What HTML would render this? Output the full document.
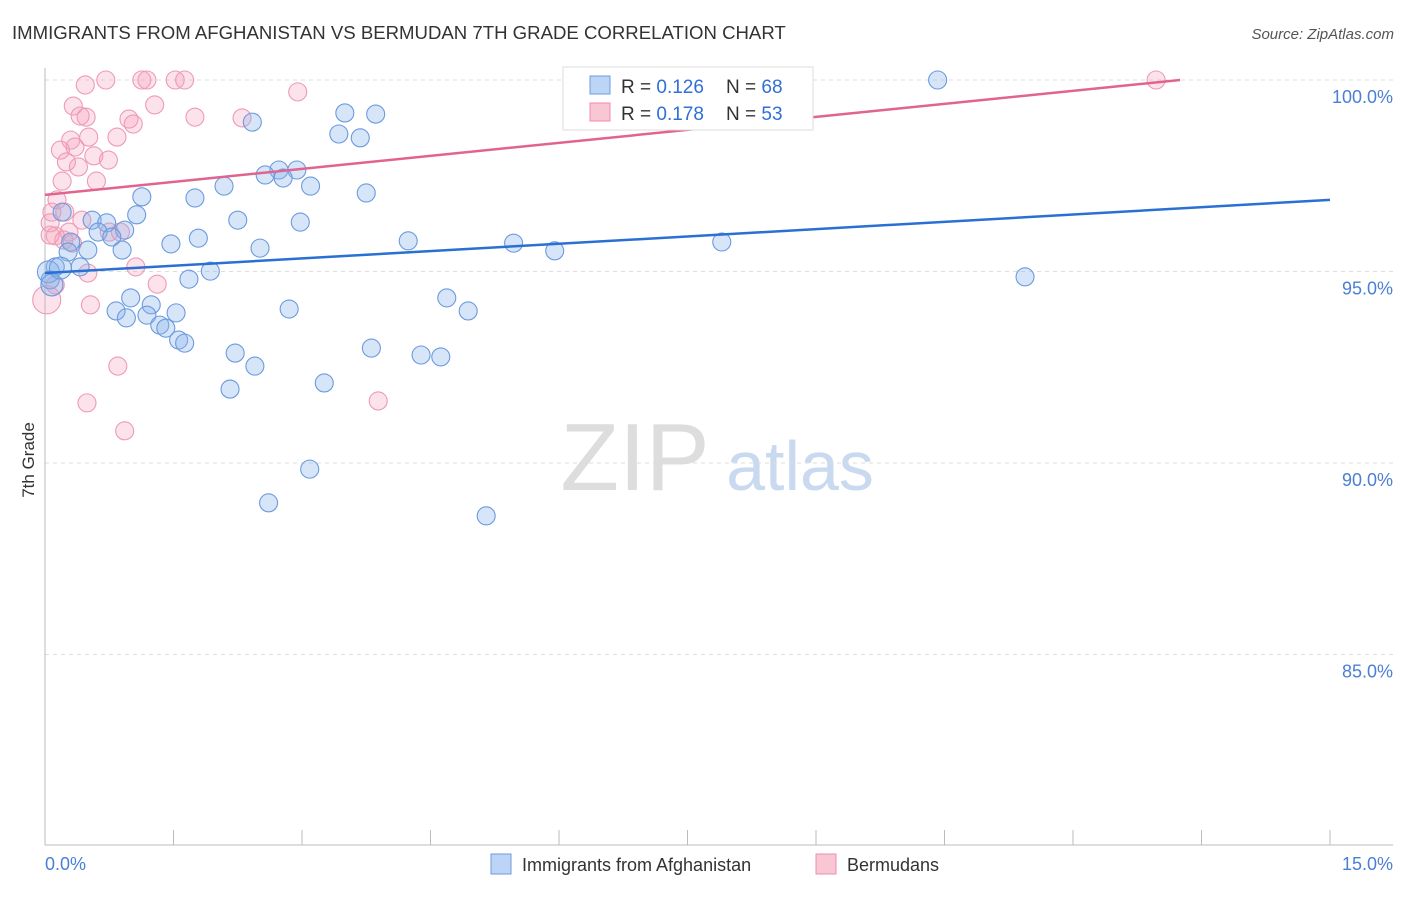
<!DOCTYPE html>
<html><head><meta charset="utf-8"><style>
body{margin:0;background:#fff;font-family:"Liberation Sans",sans-serif;}
#wrap{position:relative;width:1406px;height:892px;}
svg text{font-family:"Liberation Sans",sans-serif;}
</style></head><body>
<div id="wrap">
<svg id="svg" width="1406" height="892">
<text x="12" y="39" font-size="18.6" fill="#333">IMMIGRANTS FROM AFGHANISTAN VS BERMUDAN 7TH GRADE CORRELATION CHART</text>
<text x="1394" y="39" font-size="15" fill="#555" font-style="italic" text-anchor="end">Source: ZipAtlas.com</text>
<text x="34" y="460" font-size="17" fill="#333" transform="rotate(-90 34 460)" text-anchor="middle">7th Grade</text>
<g><text x="635" y="490" font-size="96" fill="#ddd" font-family="Liberation Serif" text-anchor="middle">ZIP</text><text x="800" y="490" font-size="70" fill="#c9d9f0" text-anchor="middle">atlas</text></g>
<g id="grid"></g><g id="pts"></g><g id="lines"></g>
<text x="45" y="870" font-size="18" fill="#4a7fd4">0.0%</text>
<text x="1393" y="870" font-size="18" fill="#4a7fd4" text-anchor="end">15.0%</text>
<g>
<rect x="563" y="67" width="250" height="63" fill="#fff" stroke="#ddd"/>
<rect x="590" y="76" width="20" height="18" fill="#bcd4f5" stroke="#6e9be0"/>
<text x="621" y="93" font-size="19" fill="#333">R = <tspan fill="#2f6fd6">0.126</tspan></text>
<text x="726" y="93" font-size="19" fill="#333">N = <tspan fill="#2f6fd6">68</tspan></text>
<rect x="590" y="103" width="20" height="18" fill="#f9c6d6" stroke="#eb8fae"/>
<text x="621" y="120" font-size="19" fill="#333">R = <tspan fill="#2f6fd6">0.178</tspan></text>
<text x="726" y="120" font-size="19" fill="#333">N = <tspan fill="#2f6fd6">53</tspan></text>
</g>
<g>
<rect x="491" y="854" width="20" height="20" fill="#bcd4f5" stroke="#6e9be0"/>
<text x="522" y="871" font-size="18" fill="#333">Immigrants from Afghanistan</text>
<rect x="816" y="854" width="20" height="20" fill="#f9c6d6" stroke="#eb8fae"/>
<text x="847" y="871" font-size="18" fill="#333">Bermudans</text>
</g>
</svg></div>
<script>
const yTicks=[100,95,90,85];
const yTickLabels=["100.0%","95.0%","90.0%","85.0%"];
const xTicks=[0,1.5,3,4.5,6,7.5,9,10.5,12,13.5,15];
const blueX=[6.85,10.42,2.42,3.50,3.86,3.43,3.68,2.73,2.94,2.57,2.78,3.10,2.09,3.75,1.13,1.75,0.20,1.07,2.25,2.98,0.55,0.72,0.62,0.93,0.78,0.30,1.47,1.79,4.24,5.47,7.90,2.51,0.50,0.90,5.95,0.27,0.12,0.41,1.93,1.68,11.44,0.06,1.00,4.69,1.24,2.85,0.83,4.94,0.95,1.19,1.53,1.34,1.41,1.56,1.63,2.22,3.81,4.39,4.62,2.45,3.26,2.16,3.09,2.61,5.15,0.04,0.08,0.18];
const blueY=[100.0,100.0,98.90,99.14,99.11,98.59,98.49,97.65,97.65,97.52,97.44,97.23,97.23,97.05,96.95,96.92,96.55,96.48,96.34,96.29,96.34,96.27,96.03,96.08,95.90,95.77,95.72,95.87,95.80,95.74,95.77,95.61,95.56,95.56,95.54,95.51,95.12,95.12,95.01,94.80,94.86,94.78,94.31,94.31,94.13,94.02,93.97,93.97,93.79,93.86,93.92,93.60,93.52,93.21,93.13,92.87,93.00,92.82,92.77,92.53,92.09,91.93,89.84,88.96,88.62,94.99,94.65,95.09];
const pinkX=[0.02,0.47,0.71,1.13,1.19,1.52,1.63,2.95,0.33,0.48,0.41,1.28,0.98,1.03,1.75,2.30,0.30,0.84,0.51,0.35,0.18,0.57,0.74,0.25,0.39,0.60,0.20,0.14,0.08,0.06,0.23,0.43,0.28,0.75,0.88,0.12,0.32,0.22,1.06,0.50,1.31,0.12,0.53,0.85,0.49,3.89,0.93,12.97,0.06];
const pinkY=[94.26,99.87,100,100,100,100,100,99.69,99.32,99.03,99.06,99.35,98.98,98.85,99.03,99.01,98.43,98.51,98.51,98.25,98.17,98.02,97.91,97.86,97.73,97.36,97.36,96.87,96.55,96.27,96.55,96.34,96.03,96.03,96.03,95.93,95.74,95.82,95.12,94.96,94.67,94.65,94.13,92.53,91.57,91.62,90.84,100,95.95];
const blueTrend=[[0,94.96],[15,96.87]];
const pinkTrend=[[0,97.0],[13.25,100]];
const X=v=>45+v/15*1285, Y=v=>80+(100-v)/5*191.5;
const NS="http://www.w3.org/2000/svg";
function mk(t,a,p){const e=document.createElementNS(NS,t);for(const k in a)e.setAttribute(k,a[k]);p.appendChild(e);return e;}
const grid=document.getElementById('grid');
yTicks.forEach((t,i)=>{const l=mk('line',{x1:45,x2:1393,y1:Y(t),y2:Y(t),stroke:'#ddd','stroke-dasharray':'4,4'},grid);


const tx=mk('text',{x:1393,y:Y(t)+23,'font-size':18,fill:'#4a7fd4','text-anchor':'end'},grid);tx.textContent=yTickLabels[i];

});
const ax=mk('line',{x1:45,x2:45,y1:68,y2:845,stroke:'#bbb'},grid);


const bx=mk('line',{x1:45,x2:1393,y1:845,y2:845,stroke:'#bbb'},grid);


xTicks.forEach(t=>{const l=mk('line',{x1:X(t),x2:X(t),y1:830,y2:845,stroke:'#bbb'},grid);

});
const pts=document.getElementById('pts');
pinkX.forEach((x,i)=>{const c=mk('circle',{cx:X(x),cy:Y(pinkY[i]),r:i==0?14:9,fill:'rgba(245,160,185,0.3)',stroke:'#ee9ab6','stroke-width':1.1},pts);

});
blueX.forEach((x,i)=>{const c=mk('circle',{cx:X(x),cy:Y(blueY[i]),r:i>=65?11:9,fill:'rgba(140,180,235,0.35)',stroke:'#6b9ade','stroke-width':1.1},pts);

});
const lines=document.getElementById('lines');
const lb=mk('line',{x1:X(blueTrend[0][0]),y1:Y(blueTrend[0][1]),x2:X(blueTrend[1][0]),y2:Y(blueTrend[1][1]),stroke:'#2a6fd4','stroke-width':2.5},lines);


const lp=mk('line',{x1:X(pinkTrend[0][0]),y1:Y(pinkTrend[0][1]),x2:X(pinkTrend[1][0]),y2:Y(pinkTrend[1][1]),stroke:'#e0648f','stroke-width':2.5},lines);


</script></body></html>
